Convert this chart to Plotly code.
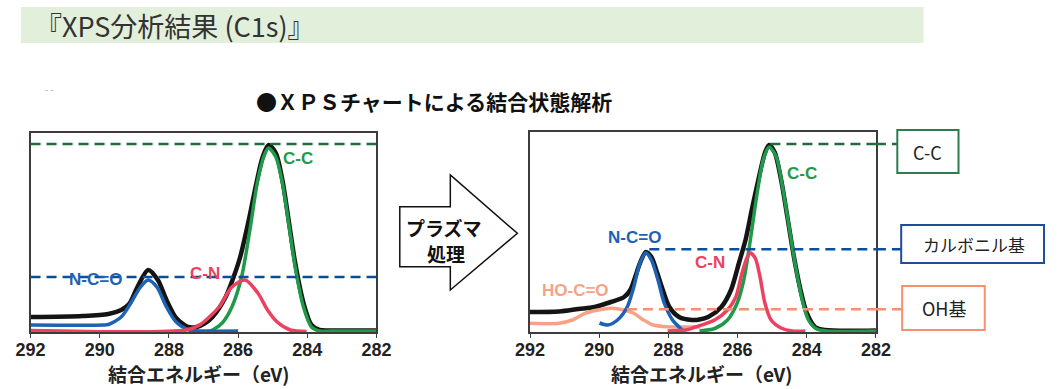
import plotly.graph_objects as go

W, H = 1060, 389

# Binding-energy ticks shared by both spectra
tick_vals = [292, 290, 288, 286, 284, 282]
tick_text = ["292", "290", "288", "286", "284", "282"]

# ---------- C1s spectrum before plasma treatment (eV, intensity a.u.) ----------
before_total_ev = [292.0, 290.5, 289.75, 289.38, 289.15, 288.91, 288.6, 288.32, 288.07, 287.79,
                   287.45, 287.2, 286.95, 286.74, 286.36, 286.13, 285.94, 285.71, 285.47, 285.29,
                   285.12, 284.91, 284.72, 284.54, 284.35, 284.11, 283.88, 283.65, 283.3, 282.0]
before_total_int = [15, 16, 18, 22, 28, 45, 62, 52, 32, 14,
                    5, 5, 9, 15, 35, 55, 75, 109, 149, 175,
                    187, 179, 152, 112, 69, 29, 7, 2, 1.5, 1.5]

before_ncoo_ev = [292.0, 289.9, 289.75, 289.38, 289.10, 288.82, 288.60, 288.35, 288.07, 287.79,
                  287.41, 287.0, 286.0]
before_ncoo_int = [7, 7, 7.5, 15, 29, 45, 52, 45, 25, 10, 2, 1, 1]

before_cn_ev = [292.0, 287.5, 287.11, 286.55, 286.18, 285.80, 285.43, 285.15, 284.87, 284.49, 284.02]
before_cn_int = [1.5, 2, 7, 25, 45, 52, 39, 22, 10, 2, 0.5]

before_cc_ev = [286.9, 286.74, 286.46, 286.18, 285.90, 285.66, 285.43, 285.24, 285.12, 284.91,
                284.72, 284.54, 284.35, 284.11, 283.88, 283.65, 283.3, 282.0]
before_cc_int = [0.5, 2, 9, 25, 55, 102, 152, 177, 184, 175,
                 149, 109, 65, 25, 5, 1, 1, 1]

before_levels = [188, 55]          # C-C, N-C=O reference levels

# ---------- C1s spectrum after plasma treatment ----------
after_total_ev = [292.0, 291.16, 290.6, 290.13, 289.66, 289.28, 289.1, 288.96, 288.82, 288.65,
                  288.49, 288.35, 288.16, 287.97, 287.69, 287.32, 287.1, 286.85, 286.47, 286.19,
                  285.96, 285.77, 285.59, 285.4, 285.21, 285.09, 284.93, 284.74, 284.56, 284.37,
                  284.18, 284.0, 283.76, 283.48, 282.0]
after_total_int = [20, 20.5, 23, 25, 30, 35, 42, 55, 69, 80,
                   75, 62, 42, 25, 15, 12, 12.5, 15, 25, 42,
                   69, 92, 122, 152, 179, 187, 180, 152, 115, 75,
                   42, 19, 5, 2, 1.5]

after_hocoo_ev = [292.0, 291.16, 290.78, 290.41, 290.03, 289.66, 289.28, 289.0, 288.72, 288.44,
                  288.07, 287.5, 287.08]
after_hocoo_int = [8.7, 8.7, 12, 18.7, 22, 23.7, 22, 18.7, 12, 7, 5.3, 5, 5]

after_ncoo_ev = [289.99, 289.75, 289.47, 289.19, 289.0, 288.82, 288.65, 288.49, 288.3, 288.12,
                 287.88, 287.69, 287.6]
after_ncoo_int = [9, 7, 12, 25, 45, 69, 79, 72, 52, 29, 12, 5, 2]

after_cn_ev = [288.02, 287.5, 287.22, 286.66, 286.29, 286.05, 285.87, 285.73, 285.63, 285.49,
               285.35, 285.21, 285.03, 284.74, 284.42, 284.04]
after_cn_int = [1, 2, 5, 12, 22, 35, 59, 74, 79, 74, 55, 29, 12, 4, 1, 1]

after_cc_ev = [287.1, 286.66, 286.29, 286.01, 285.82, 285.63, 285.45, 285.26, 285.09, 284.88,
               284.70, 284.51, 284.32, 284.13, 283.95, 283.71, 283.4, 282.0]
after_cc_int = [1, 3.5, 12, 29, 52, 92, 135, 172, 185, 175,
                145, 105, 65, 32, 12, 3, 1, 1]

after_levels = [188, 82.7, 22.7]   # C-C, carbonyl, OH reference levels

# ---------- colours ----------
BLACK = "#141414"
GREEN = "#1F9A4A"
BLUE = "#1E62B3"
RED = "#EC4160"
SALMON = "#F5A386"
GREEN_D = "#1E6E3E"
BLUE_D = "#0C4E9B"
SALMON_D = "#F2916F"

LABEL_FONT = "Liberation Sans Narrow, Arial Narrow, Liberation Sans, Arial"
JP_FONT = "Noto Sans CJK JP, Noto Sans, sans-serif"


def px(x):
    return x / W


def py(y):
    return 1 - y / H


def curve(xs, ys, color, width, xa, ya):
    return go.Scatter(x=xs, y=ys, mode="lines", xaxis=xa, yaxis=ya,
                      line=dict(color=color, width=width, shape="spline", smoothing=0.8),
                      hoverinfo="skip", showlegend=False)


fig = go.Figure()

# before treatment
fig.add_trace(curve(before_total_ev, before_total_int, BLACK, 4.5, "x", "y"))
fig.add_trace(curve(before_cc_ev, before_cc_int, GREEN, 3.5, "x", "y"))
fig.add_trace(curve(before_ncoo_ev, before_ncoo_int, BLUE, 3.5, "x", "y"))
fig.add_trace(curve(before_cn_ev, before_cn_int, RED, 3.5, "x", "y"))

# after treatment
fig.add_trace(curve(after_total_ev, after_total_int, BLACK, 4.5, "x2", "y2"))
fig.add_trace(curve(after_hocoo_ev, after_hocoo_int, SALMON, 3.5, "x2", "y2"))
fig.add_trace(curve(after_cc_ev, after_cc_int, GREEN, 3.5, "x2", "y2"))
fig.add_trace(curve(after_ncoo_ev, after_ncoo_int, BLUE, 3.5, "x2", "y2"))
fig.add_trace(curve(after_cn_ev, after_cn_int, RED, 3.5, "x2", "y2"))

axis_common = dict(showgrid=False, zeroline=False, showline=True, mirror=True,
                   linecolor="#3c3c3c", linewidth=1.5)
xaxis_common = dict(axis_common, range=[292, 282], tickvals=tick_vals,
                    ticktext=[f"<b>{t}</b>" for t in tick_text],
                    ticks="outside", ticklen=4, tickcolor="#3c3c3c", ticklabelstandoff=-3,
                    tickfont=dict(family=LABEL_FONT, size=18, color="#222"))
yaxis_common = dict(axis_common, showticklabels=False, ticks="")

fig.update_layout(
    width=W, height=H, margin=dict(l=0, r=0, t=0, b=0),
    paper_bgcolor="white", plot_bgcolor="white",
    xaxis=dict(xaxis_common, domain=[px(16), px(372)], anchor="y"),
    yaxis=dict(yaxis_common, domain=[py(332), py(133)], range=[0, 199], anchor="x"),
    xaxis2=dict(xaxis_common, domain=[px(530), px(886)], anchor="y2"),
    yaxis2=dict(yaxis_common, domain=[py(332), py(132)], range=[0, 200], anchor="x2"),
)

shapes = []
dash = "10px,6px"

# title banner
shapes.append(dict(type="rect", xref="paper", yref="paper", x0=px(6), x1=px(935), y0=py(43), y1=py(7),
                   fillcolor="#E2EFDA", line=dict(width=0), layer="below"))

# reference levels across the "before" spectrum
for lvl, col in zip(before_levels, [GREEN_D, BLUE_D]):
    shapes.append(dict(type="line", xref="x domain", yref="y", x0=0, x1=1, y0=lvl, y1=lvl,
                       line=dict(color=col, width=2.5, dash=dash)))

# reference levels in the "after" spectrum, running out to the side boxes
after_starts = [285.05, 288.55, 289.2]
box_left = [908, 912, 913]
for lvl, start, bl, col in zip(after_levels, after_starts, box_left, [GREEN_D, BLUE_D, SALMON_D]):
    shapes.append(dict(type="line", xref="x2", yref="y2", x0=start, x1=282, y0=lvl, y1=lvl,
                       line=dict(color=col, width=2.5, dash=dash)))
    shapes.append(dict(type="line", xref="x2 domain", yref="y2", x0=1, x1=1 + (bl - 886) / 356,
                       y0=lvl, y1=lvl, line=dict(color=col, width=2.5, dash=dash)))

# side boxes
for (x0, y0, x1, y1), col in zip([(908, 130, 971, 173), (912, 225, 1059, 263), (913, 286, 998, 330)],
                                 ["#2E7B50", "#1F4E99", "#F4916E"]):
    shapes.append(dict(type="rect", xref="paper", yref="paper", x0=px(x0), x1=px(x1),
                       y0=py(y1), y1=py(y0), line=dict(color=col, width=2), fillcolor="white"))

# plasma-treatment arrow
arrow_pts = [(396, 206.7), (448, 206.7), (448, 175), (517, 233.3), (448, 290), (448, 266.7), (396, 266.7)]
path = "M " + " L ".join(f"{px(x):.5f},{py(y):.5f}" for x, y in arrow_pts) + " Z"
shapes.append(dict(type="path", xref="paper", yref="paper", path=path,
                   line=dict(color="#111", width=1.5), fillcolor="white"))

fig.update_layout(shapes=shapes)

ann = []


def text_px(x, y, s, size, color="#111", family=JP_FONT, xanchor="center", bold=False):
    if bold:
        s = f"<b>{s}</b>"
    ann.append(dict(xref="paper", yref="paper", x=px(x), y=py(y), text=s, showarrow=False,
                    xanchor=xanchor, yanchor="middle", borderpad=0,
                    font=dict(family=family, size=size, color=color)))


def text_data(xa, ya, x, y, s, color, size=17):
    ann.append(dict(xref=xa, yref=ya, x=x, y=y, text=f"<b>{s}</b>", showarrow=False,
                    xanchor="center", yanchor="middle",
                    font=dict(family=LABEL_FONT, size=size, color=color)))


text_px(20, 26, "『XPS分析結果 (C1s)』", 27, color="#333", xanchor="left")
text_px(35, 89, "- -", 9, color="#999")
text_px(431, 101, "●ＸＰＳチャートによる結合状態解析", 21, bold=True)
text_px(442, 227, "プラズマ", 19, bold=True)
text_px(444, 253, "処理", 19, bold=True)
text_px(189, 373, "結合エネルギー（eV)", 19, color="#222", bold=True)
text_px(707, 373, "結合エネルギー（eV)", 19, color="#222", bold=True)
text_px(939.5, 151.5, "C-C", 18, color="#222")
text_px(987, 244, "カルボニル基", 17, color="#222")
text_px(956, 308, "OH基", 18, color="#222")

# peak labels
text_data("x", "y", 284.28, 173, "C-C", GREEN)
text_data("x", "y", 286.97, 59, "C-N", RED)
text_data("x", "y", 290.12, 53, "N-C=O", BLUE)
text_data("x2", "y2", 288.97, 95, "N-C=O", BLUE)
text_data("x2", "y2", 286.8, 70, "C-N", RED)
text_data("x2", "y2", 284.13, 159, "C-C", GREEN)
text_data("x2", "y2", 290.68, 42, "HO-C=O", SALMON)

fig.update_layout(annotations=ann)

fig.write_html("out.html")
